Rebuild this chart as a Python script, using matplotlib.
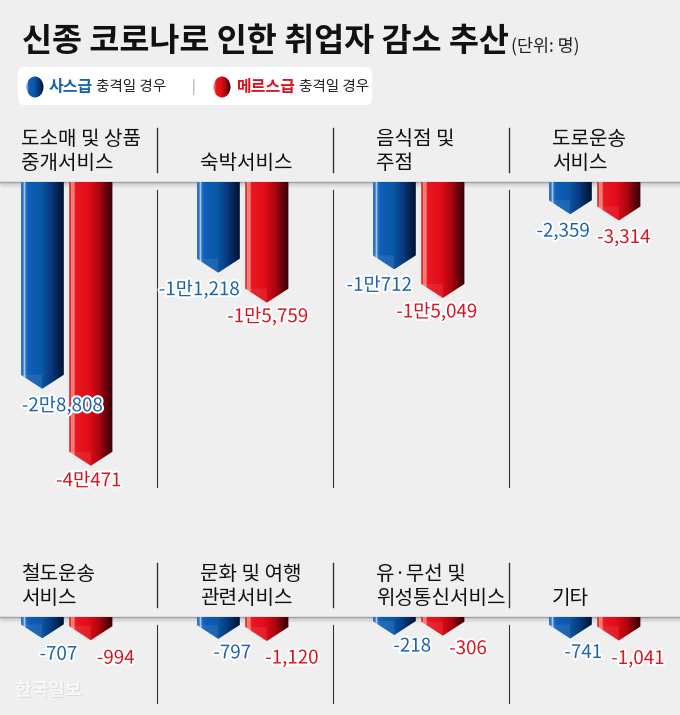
import numpy as np
import matplotlib
matplotlib.use('Agg')
import matplotlib.pyplot as plt
import matplotlib.patheffects as pe
from matplotlib.colors import LinearSegmentedColormap
from matplotlib.patches import Polygon, FancyBboxPatch, Ellipse

plt.rcParams['font.family'] = ['Noto Sans CJK KR', 'DejaVu Sans']

# data (명, decrease)
top_categories = ['도소매 및 상품\n중개서비스', '숙박서비스', '음식점 및\n주점', '도로운송\n서비스']
top_sars = [28808, 11218, 10712, 2359]
top_mers = [40471, 15759, 15049, 3314]

bottom_categories = ['철도운송\n서비스', '문화 및 여행\n관련서비스', '유·무선 및\n위성통신서비스', '기타']
bottom_sars = [707, 797, 218, 741]
bottom_mers = [994, 1120, 306, 1041]

BG = '#efefef'
BLUE_TXT = '#1a63ad'
RED_TXT = '#d7141f'

W, H = 680, 715
fig = plt.figure(figsize=(W / 100, H / 100), dpi=100, facecolor=BG)

# canvas axes in pixel coordinates for decoration
canvas = fig.add_axes([0, 0, 1, 1])
canvas.set_xlim(0, W)
canvas.set_ylim(H, 0)
canvas.axis('off')
canvas.set_facecolor(BG)

blue_cmap = LinearSegmentedColormap.from_list('b', [
    (0.00, '#2a6ec2'), (0.05, '#3a80d2'), (0.07, '#e4eefa'), (0.10, '#2a70c4'),
    (0.16, '#0f5fb6'), (0.45, '#0b58aa'), (0.70, '#08397a'), (0.88, '#04204c'),
    (1.00, '#020e26')])
red_cmap = LinearSegmentedColormap.from_list('r', [
    (0.00, '#d4141c'), (0.04, '#f04040'), (0.06, '#ffd6cc'), (0.08, '#e83030'),
    (0.10, '#ffb8a8'), (0.13, '#e61a22'), (0.45, '#e20c18'), (0.70, '#a8060f'),
    (0.88, '#600009'), (1.00, '#300004')])

# title
canvas.text(22, 42, '신종 코로나로 인한 취업자 감소 추산', fontsize=23.5, fontweight='bold',
            va='center', ha='left', color='#111111')
canvas.text(511, 46, '(단위: 명)', fontsize=12.5, va='center', ha='left', color='#222222')

# legend box
canvas.add_patch(FancyBboxPatch((18, 67), 354, 38, boxstyle='round,pad=0,rounding_size=6',
                                facecolor='white', edgecolor='none', zorder=1))
grad = np.linspace(0, 1, 64).reshape(1, -1)
for cx, cmap in [(35, blue_cmap), (222, red_cmap)]:
    el = Ellipse((cx, 87), 17, 21, facecolor='none', edgecolor='none', zorder=3)
    canvas.add_patch(el)
    im = canvas.imshow(grad, cmap=cmap, extent=[cx - 9, cx + 9, 98, 76], aspect='auto',
                       interpolation='bilinear', zorder=3)
    im.set_clip_path(el)
canvas.set_xlim(0, W)
canvas.set_ylim(H, 0)
canvas.text(49, 87, '사스급', fontsize=11.5, fontweight='bold', color=BLUE_TXT, va='center')
canvas.text(96, 87, '충격일 경우', fontsize=10.5, color='#222222', va='center')
canvas.text(193, 87, '|', fontsize=10, color='#999999', va='center', ha='center')
canvas.text(237, 87, '메르스급', fontsize=11.5, fontweight='bold', color=RED_TXT, va='center')
canvas.text(299, 87, '충격일 경우', fontsize=10.5, color='#222222', va='center')

# watermark
canvas.text(15, 690, '한국일보', fontsize=13, fontweight='bold', color='#f8f8f8', va='center',
            path_effects=[pe.withSimplePatchShadow(offset=(0.6, -0.6), shadow_rgbFace='#c8c8c8', alpha=0.6)])

PX_PER_PERSON = 0.0066
HEAD_PX = 14
PANEL_PX = 176
PANEL0_PX = -19
BAR_W = 0.245
OFFSETS = [-0.152, 0.124]


def fmt(v):
    if v >= 10000:
        r = v % 10000
        return f'-{v // 10000}만{r:,}'
    return f'-{v:,}'


def draw_row(baseline, bottom, categories, sars, mers, label_dx, label_dy):
    # data axes: x in panel units, y in persons
    ax = fig.add_axes([0, 1 - bottom / H, 1, (bottom - baseline) / H])
    ax.patch.set_alpha(0)
    ax.axis('off')
    x0 = (0 - PANEL0_PX) / PANEL_PX - 0.5
    x1 = (W - PANEL0_PX) / PANEL_PX - 0.5
    head = HEAD_PX / PX_PER_PERSON

    for i, cat in enumerate(categories):
        for j, (vals, cmap, col) in enumerate([(sars, blue_cmap, BLUE_TXT), (mers, red_cmap, RED_TXT)]):
            v = vals[i]
            xc = i + OFFSETS[j]
            xl, xr = xc - BAR_W / 2, xc + BAR_W / 2
            body = -(v + 400)
            tip = body - head
            poly = Polygon([(xl, 0), (xr, 0), (xr, body), (xc, tip), (xl, body)],
                           closed=True, facecolor='none', edgecolor='none')
            ax.add_patch(poly)
            im = ax.imshow(grad, cmap=cmap, extent=[xl, xr, tip, 0], aspect='auto',
                           interpolation='bilinear', zorder=2)
            im.set_clip_path(poly)
            # left facet of arrow head slightly lighter
            facet = Polygon([(xl, body), (xc, tip), (xc, body)], closed=True,
                            facecolor='white', alpha=0.08, edgecolor='none', zorder=3)
            ax.add_patch(facet)
            k = i * 2 + j
            ax.annotate(fmt(v), (xc, tip), xytext=(label_dx[k], -label_dy[k]),
                        textcoords='offset pixels', ha='center', va='center',
                        fontsize=13.5, color=col, zorder=5,
                        path_effects=[pe.withStroke(linewidth=3, foreground='white')])
        # header
        canvas.text((i + OFFSETS[0] - BAR_W / 2 + 0.5) * PANEL_PX + PANEL0_PX + (0 if i == 0 else 3),
                    baseline - 8, cat, fontsize=14.5, ha='left', va='bottom', color='#111111',
                    linespacing=1.2)
    ax.set_xlim(x0, x1)
    ax.set_ylim(-(bottom - baseline) / PX_PER_PERSON, 0)

    # baseline with soft shadow
    for s in range(5):
        canvas.plot([0, W], [baseline + 1 + s, baseline + 1 + s], color='black',
                    alpha=0.10 * (1 - s / 5), lw=1, solid_capstyle='butt')
    canvas.plot([0, W], [baseline, baseline], color='#a0a0a0', lw=1.0)
    # separators
    for i in range(1, 4):
        xs = PANEL0_PX + PANEL_PX * i
        canvas.plot([xs, xs], [baseline - 54, baseline - 10], color='#333333', lw=1.0)
        canvas.plot([xs, xs], [baseline + 8, bottom], color='#333333', lw=0.8)


draw_row(182, 487, top_categories, top_sars, top_mers,
         label_dx=[20, -2, -19, 1, -15, -6, -7, 5],
         label_dy=[17, 15, 17, 14, 16, 14, 17, 17])
draw_row(617, 703, bottom_categories, bottom_sars, bottom_mers,
         label_dx=[16, 25, 14, 25, 18, 25, 13, 19],
         label_dy=[16, 18, 14, 17, 11, 13, 14, 18])

canvas.set_xlim(0, W)
canvas.set_ylim(H, 0)
fig.savefig('out.png', dpi=100, facecolor=BG)
